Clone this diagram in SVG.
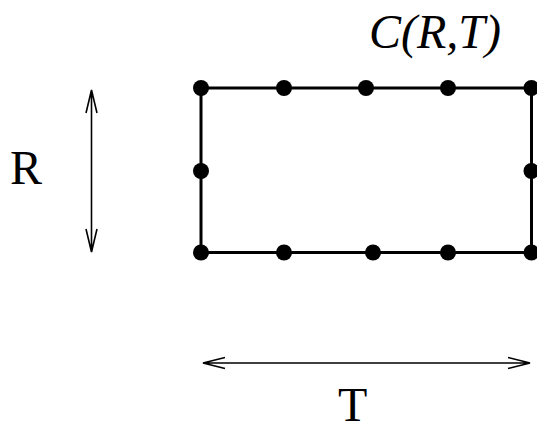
<svg xmlns="http://www.w3.org/2000/svg" width="537" height="425" viewBox="0 0 537 425">
<style>
.lbl{font-family:"Liberation Serif","Times New Roman",serif;font-size:48px;fill:#000}
.it{font-style:italic}
.edge{stroke:#000;stroke-width:3;fill:none}
.dot{fill:#000}
.arr{stroke:#000;stroke-width:1.6;fill:none}
</style>
<rect width="537" height="425" fill="#fff"/>
<g id="connectors">
<rect class="edge" x="201" y="88" width="330.5" height="164.5"/>
</g>
<g id="nodes">
<circle class="dot" cx="201" cy="88" r="8"/>
<circle class="dot" cx="284" cy="88" r="8"/>
<circle class="dot" cx="366" cy="88" r="8"/>
<circle class="dot" cx="448" cy="88" r="8"/>
<circle class="dot" cx="531.5" cy="88" r="8"/>
<circle class="dot" cx="201" cy="171" r="8"/>
<circle class="dot" cx="531.5" cy="171" r="8"/>
<circle class="dot" cx="201" cy="252.5" r="8"/>
<circle class="dot" cx="284" cy="252.5" r="8"/>
<circle class="dot" cx="373" cy="252.5" r="8"/>
<circle class="dot" cx="448" cy="252.5" r="8"/>
<circle class="dot" cx="531.5" cy="252.5" r="8"/>
</g>
<g id="dimR">
<path class="arr" d="M91.5 90 V252 M86 113 L91.5 90 L97 113 M86 229 L91.5 252 L97 229"/>
<text class="lbl" x="10" y="184">R</text>
</g>
<g id="dimT">
<path class="arr" d="M203 363 H530 M225 357.5 L203 363 L225 368.5 M508 357.5 L530 363 L508 368.5"/>
<text class="lbl" x="338" y="421">T</text>
</g>
<text class="lbl it" x="369" y="48">C(R,T)</text>
</svg>
